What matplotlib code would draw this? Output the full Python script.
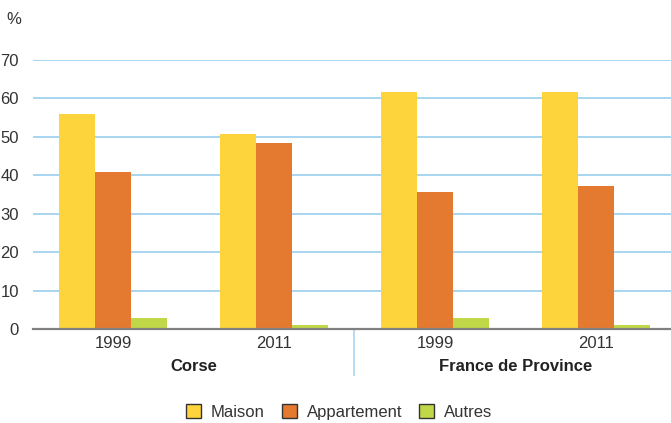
import matplotlib.pyplot as plt
from matplotlib import font_manager
from matplotlib.patches import Patch
import numpy as np

# data
years = ["1999", "2011", "1999", "2011"]
regions = ["Corse", "France de Province"]
series_names = ["Maison", "Appartement", "Autres"]
maison = [56.0, 50.7, 61.7, 61.7]
appartement = [40.9, 48.4, 35.6, 37.2]
autres = [2.9, 1.1, 2.9, 1.1]
colors = ["#fdd43c", "#e37a30", "#c0d848"]

names = {f.name for f in font_manager.fontManager.ttflist}
family = "Liberation Sans Narrow" if "Liberation Sans Narrow" in names else "Liberation Sans"
plt.rcParams["font.family"] = [family, "DejaVu Sans"]

fig = plt.figure(figsize=(6.71, 4.23), dpi=100)
ax = fig.add_axes([33 / 671, 94 / 423, 638 / 671, 269 / 423])

x = np.arange(len(years))
w = 36 / 161
for i, (vals, c) in enumerate(zip([maison, appartement, autres], colors)):
    ax.bar(x + (i - 1) * w, vals, width=w, color=c, zorder=3, label=series_names[i])

ax.set_xlim(-0.497, 3.466)
ax.set_ylim(0, 70)
ax.set_yticks(range(0, 71, 10))
ax.yaxis.grid(True, color="#a9d5f0", linewidth=1.4, zorder=0)
ax.tick_params(axis="y", length=0, labelsize=12, colors="#333333", pad=10)
ax.tick_params(axis="x", length=0, labelsize=12, colors="#333333", pad=5)
ax.set_xticks(x)
ax.set_xticklabels(years)
for s in ["top", "right", "left"]:
    ax.spines[s].set_visible(False)
ax.spines["bottom"].set_color("#808080")
ax.spines["bottom"].set_linewidth(1.6)
ax.spines["bottom"].set_zorder(4)

# separator between the two regions
ax.plot([1.5, 1.5], [0, -46 / 269], transform=ax.get_xaxis_transform(),
        color="#a9d5f0", linewidth=1.2, clip_on=False)

for xc, name in zip([0.5, 2.5], regions):
    ax.text(xc, -37 / 269, name, transform=ax.get_xaxis_transform(),
            ha="center", va="center", fontsize=12, fontweight="bold", color="#222222")

fig.text(14 / 671, 1 - 20 / 423, "%", ha="center", va="center", fontsize=12, color="#333333")

handles = [Patch(facecolor=c, edgecolor="#333333", linewidth=1.0) for c in colors]
fig.legend(handles, series_names, loc="center", bbox_to_anchor=(339 / 671, 1 - 412 / 423),
           ncol=3, frameon=False, fontsize=12, handlelength=0.9, handleheight=0.9,
           columnspacing=1.0, handletextpad=0.6, labelcolor="#333333")

fig.savefig("out.png", dpi=100)
